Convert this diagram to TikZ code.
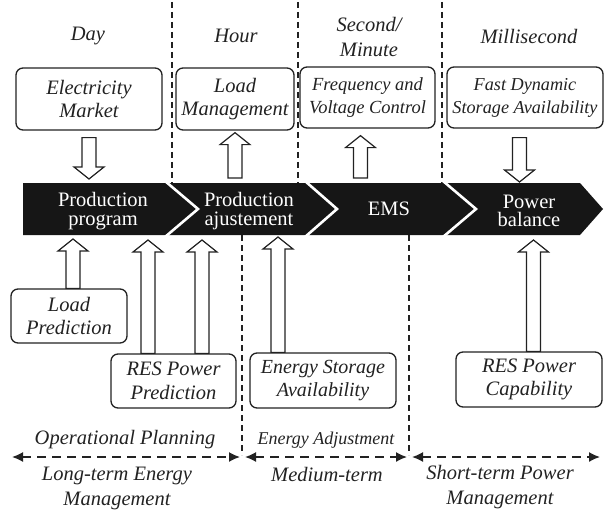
\documentclass[tikz,border=0pt]{standalone}
\usepackage{fontspec}
\setmainfont{Liberation Serif}
\usetikzlibrary{calc,arrows.meta}

\definecolor{ink}{RGB}{34,34,34}
\definecolor{band}{RGB}{22,22,22}

% hollow block arrow, tail point #1, tip height taken from point #2
\newcommand{\blkup}[2]{%
  \path[blk] let \p1=#1, \p2=#2 in
    (\x1-7pt,\y1) -- (\x1-7pt,\y2-12pt) -- (\x1-15pt,\y2-12pt) -- (\x1,\y2)
    -- (\x1+15pt,\y2-12pt) -- (\x1+7pt,\y2-12pt) -- (\x1+7pt,\y1) -- cycle;}
\newcommand{\blkdown}[2]{%
  \path[blk] let \p1=#1, \p2=#2 in
    (\x1-7pt,\y1) -- (\x1-7pt,\y2+12pt) -- (\x1-15pt,\y2+12pt) -- (\x1,\y2)
    -- (\x1+15pt,\y2+12pt) -- (\x1+7pt,\y2+12pt) -- (\x1+7pt,\y1) -- cycle;}

\begin{document}
\begin{tikzpicture}[x=1pt,y=-1pt,
  lbl/.style={font=\fontsize{20.5}{25}\selectfont\itshape, text=ink, align=center, inner sep=0pt},
  roundbox/.style={draw=ink, line width=1.3pt, rounded corners=7pt, fill=white,
    align=center, inner sep=0pt, text=ink, font=\fontsize{20.5}{23.5}\selectfont\itshape},
  stage/.style={font=\fontsize{20.5}{18.5}\selectfont, text=white, align=center, inner sep=0pt},
  blk/.style={draw=ink, fill=white, line width=1.2pt, line join=miter},
  sep/.style={draw=ink, line width=1.3pt, dash pattern=on 6pt off 4pt},
  span/.style={draw=ink, line width=1.6pt, dash pattern=on 9pt off 6pt,
    {Latex[length=11pt,width=10pt]}-{Latex[length=11pt,width=10pt]}},
  notch/.style={draw=white, line width=2.6pt, line join=miter}]

\useasboundingbox (0,0) rectangle (604,513);

% time-scale separators
\draw[sep] (172,2) -- (172,183);
\draw[sep] (298,2) -- (298,183);
\draw[sep] (442,2) -- (442,183);
\draw[sep] (242,235) -- (242,455);
\draw[sep] (409,235) -- (409,455);

% time scales
\node[lbl] (day)  at (88,36)  {Day};
\node[lbl] (hour) at (236,36) {Hour};
\node[lbl] (sec)  at (369,37) {Second/\\Minute};
\node[lbl] (ms)   at (529,36) {Millisecond};

% upper boxes
\node[roundbox, minimum width=146pt, minimum height=62pt] (em) at (89,99) {Electricity\\Market};
\node[roundbox, minimum width=118pt, minimum height=62pt] (lm) at (235,99) {Load\\Management};
\node[roundbox, minimum width=135pt, minimum height=61pt,
      font=\fontsize{18.5}{23}\selectfont\itshape] (fv) at (367.5,97.5) {Frequency and\\Voltage Control};
\node[roundbox, minimum width=156pt, minimum height=61pt,
      font=\fontsize{18.2}{23}\selectfont\itshape] (fd) at (525,97.5) {Fast Dynamic\\Storage Availability};

% process banner
\coordinate (btop) at (23,183);
\coordinate (bbot) at (23,235);
\fill[band] (23,183) -- (580,183) -- (603,209) -- (580,235) -- (23,235) -- cycle;
\draw[notch] (165,181) -- (198,209) -- (165,237);
\draw[notch] (305,181) -- (337,209) -- (305,237);
\draw[notch] (443,181) -- (476,209) -- (443,237);
\node[stage] (pp)  at (103,211) {Production\\program};
\node[stage] (pa)  at (249,211) {Production\\ajustement};
\node[stage] (ems) at (389,209) {EMS};
\node[stage] (pb)  at (529,211) {Power\\balance};

% lower boxes
\node[roundbox, minimum width=116pt, minimum height=54pt] (lp) at (69,316) {Load\\Prediction};
\node[roundbox, minimum width=125pt, minimum height=54pt] (rp) at (173.5,381) {RES Power\\Prediction};
\node[roundbox, minimum width=146pt, minimum height=55pt,
      font=\fontsize{20}{23.5}\selectfont\itshape] (es) at (323,380.5) {Energy Storage\\Availability};
\node[roundbox, minimum width=146pt, minimum height=55pt] (rc) at (529,379.5) {RES Power\\Capability};

% information flows into and out of the banner
\blkdown{($(em.south)+(0,7)$)}{($(btop)+(0,-4)$)}
\blkup{($(lm.south |- btop)+(0,-5)$)}{($(lm.south)+(0,2)$)}
\blkup{($(fv.south |- btop)+(-7,-5)$)}{($(fv.south)+(0,7)$)}
\blkdown{($(fd.south)+(-5.5,9)$)}{($(btop)+(0,-1)$)}

\blkup{($(lp.north)+(4,0)$)}{($(bbot)+(0,4)$)}
\blkup{($(rp.north)+(-25.5,0)$)}{($(bbot)+(0,5)$)}
\blkup{($(rp.north)+(28.5,0)$)}{($(bbot)+(0,5)$)}
\blkup{($(es.north)+(-45,0)$)}{($(bbot)+(0,2)$)}
\blkup{($(rc.north)+(4.5,0)$)}{($(bbot)+(0,5)$)}

% management horizons
\coordinate (h0) at (12,457);
\coordinate (h1) at (240,457);
\coordinate (h2) at (245,457);
\coordinate (h3) at (407,457);
\coordinate (h4) at (412,457);
\coordinate (h5) at (600,457);
\draw[span] (h0) -- (h1);
\draw[span] (h2) -- (h3);
\draw[span] (h4) -- (h5);

\node[lbl] (op) at (125,440) {Operational Planning};
\node[lbl, font=\fontsize{18}{22}\selectfont\itshape] (ea) at (326,440) {Energy Adjustment};
\node[lbl] (lt) at (117,488) {Long-term Energy\\Management};
\node[lbl] (mt) at (327,475) {Medium-term};
\node[lbl] (st) at (500,487) {Short-term Power\\Management};
\end{tikzpicture}
\end{document}
